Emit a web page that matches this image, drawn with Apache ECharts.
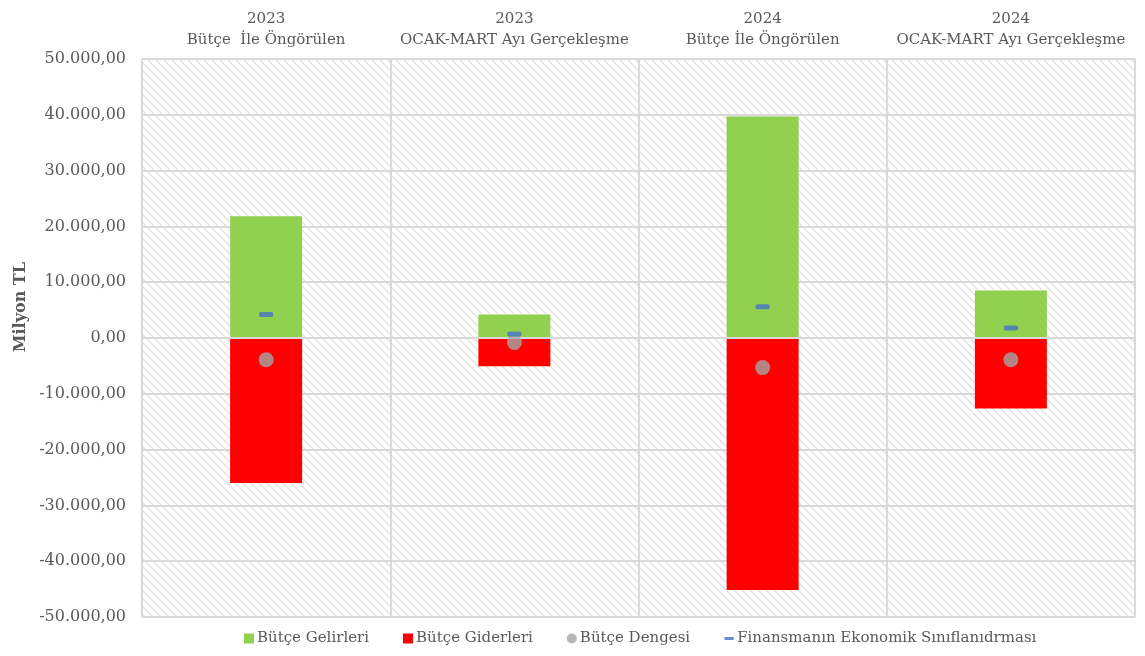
<!DOCTYPE html>
<html>
<head>
<meta charset="utf-8">
<script src="https://cdn.jsdelivr.net/npm/echarts@6/dist/echarts.min.js"></script>
<style>
  html, body { margin: 0; padding: 0; background: #fff; }
  #chart { width: 1145px; height: 656px; }
</style>
</head>
<body>
<div id="chart"></div>
<script>
// veriler
const categories = [
  "2023\nBütçe  İle Öngörülen",
  "2023\nOCAK-MART Ayı Gerçekleşme",
  "2024\nBütçe İle Öngörülen",
  "2024\nOCAK-MART Ayı Gerçekleşme"
];
const gelirler = [21800, 4200, 39700, 8500];
const giderler = [-26000, -5050, -45150, -12650];
const denge = [-3900, -800, -5300, -3900];
const finansman = [4200, 700, 5600, 1800];

const serifFont = "'DejaVu Serif', serif";

// taralı arka plan
function hatchPattern() {
  const c = document.createElement("canvas");
  c.width = 8;
  c.height = 8;
  const ctx = c.getContext("2d");
  ctx.fillStyle = "#ffffff";
  ctx.fillRect(0, 0, 8, 8);
  ctx.strokeStyle = "#e2e2e2";
  ctx.lineWidth = 1.4;
  ctx.beginPath();
  ctx.moveTo(-2, -2);
  ctx.lineTo(10, 10);
  ctx.moveTo(-2, 6);
  ctx.lineTo(2, 10);
  ctx.moveTo(6, -2);
  ctx.lineTo(10, 2);
  ctx.stroke();
  return c;
}

function fmt(v) {
  const s = Math.abs(v).toFixed(0).replace(/\B(?=(\d{3})+(?!\d))/g, ".");
  return (v < 0 ? "-" : "") + s + ",00";
}

const chart = echarts.init(document.getElementById("chart"));
chart.setOption({
  animation: false,
  grid: {
    left: 142,
    right: 10,
    top: 59,
    bottom: 39,
    show: true,
    borderColor: "#d9d9d9",
    borderWidth: 1,
    backgroundColor: { image: hatchPattern(), repeat: "repeat" }
  },
  legend: {
    bottom: 5,
    left: 239,
    itemWidth: 10,
    itemHeight: 10,
    itemGap: 34,
    textStyle: { color: "#595959", fontFamily: serifFont, fontSize: 15, padding: [0, 0, 0, -2] },
    data: [
      { name: "Bütçe Gelirleri", icon: "rect" },
      { name: "Bütçe Giderleri", icon: "rect" },
      { name: "Bütçe Dengesi", icon: "circle" },
      { name: "Finansmanın Ekonomik Sınıflanıdrması", icon: "path://M0,0 h12 a2,2 0 0 1 0,5 h-12 a2,2 0 0 1 0,-5 z" }
    ]
  },
  xAxis: {
    type: "category",
    position: "top",
    data: categories,
    axisLine: { show: false },
    axisTick: { show: false },
    axisLabel: {
      interval: 0,
      color: "#595959",
      fontFamily: serifFont,
      fontSize: 15,
      lineHeight: 21,
      margin: 8
    },
    splitLine: { show: true, interval: 0, lineStyle: { color: "#d9d9d9", width: 2 } }
  },
  yAxis: {
    type: "value",
    min: -50000,
    max: 50000,
    interval: 10000,
    axisLine: { show: false },
    axisTick: { show: false },
    axisLabel: {
      color: "#595959",
      fontFamily: serifFont,
      fontSize: 16,
      margin: 16,
      formatter: fmt
    },
    splitLine: { lineStyle: { color: "#d9d9d9", width: 2 } }
  },
  graphic: [
    {
      type: "text",
      left: 13,
      top: 262,
      rotation: Math.PI / 2,
      style: {
        text: "Milyon TL",
        fill: "#595959",
        font: "bold 16px " + serifFont
      }
    }
  ],
  series: [
    {
      name: "Bütçe Gelirleri",
      type: "bar",
      stack: "b",
      barWidth: "29%",
      data: gelirler,
      itemStyle: { color: "#92d050" },
      // sıfır çizgisi çubukların üstünde
      markLine: {
        silent: true,
        symbol: "none",
        label: { show: false },
        lineStyle: { color: "#d9d9d9", width: 2, type: "solid" },
        data: [{ yAxis: 0 }]
      }
    },
    {
      name: "Bütçe Giderleri",
      type: "bar",
      stack: "b",
      data: giderler,
      itemStyle: { color: "#ff0000" }
    },
    {
      name: "Bütçe Dengesi",
      type: "scatter",
      data: denge,
      symbol: "circle",
      symbolSize: 15,
      itemStyle: { color: "#a5a5a5" },
      z: 5
    },
    {
      name: "Finansmanın Ekonomik Sınıflanıdrması",
      type: "scatter",
      data: finansman,
      symbol: "roundRect",
      symbolSize: [14, 5],
      itemStyle: { color: "#4472c4" },
      z: 6
    }
  ]
});
</script>
</body>
</html>
